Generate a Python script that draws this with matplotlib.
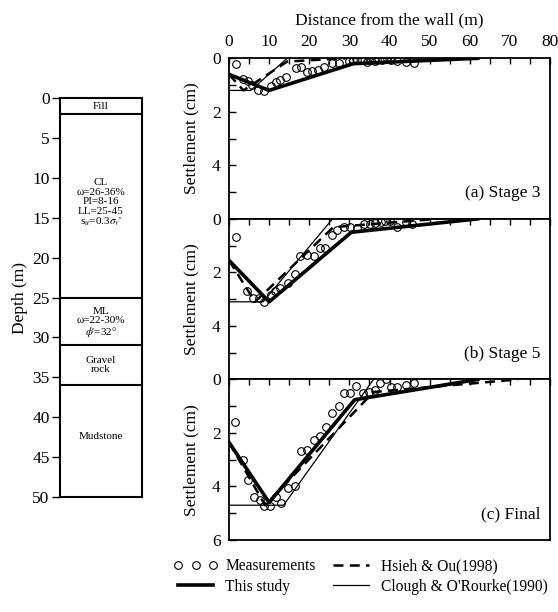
import matplotlib.pyplot as plt
from matplotlib.ticker import MultipleLocator
from matplotlib.lines import Line2D

plt.rcParams['font.family'] = ['Liberation Serif', 'DejaVu Serif']
plt.rcParams['mathtext.fontset'] = 'stix'

# ---- soil profile ----
layer_bounds = [2, 25, 31, 36]
layer_names = ["Fill",
               "CL\nω=26-36%\nPI=8-16\nLL=25-45\ns$_u$=0.3$\\sigma_v$'",
               "ML\nω=22-30%\n$\\phi$'=32°",
               "Gravel\nrock",
               "Mudstone"]
layer_label_depth = [1, 13.2, 28.2, 33.5, 42.5]

# ---- stage 3 ----
meas_x_a = [1.7, 3.4, 4.7, 5.7, 7.3, 8.8, 10.4, 11.7, 12.8, 14.3, 16.7, 17.9, 19.5, 20.7,
            22.3, 23.8, 25.6, 27.3, 29.9, 31.0, 32.0, 33.2, 34.4, 35.3, 36.3, 37.0, 38.2,
            39.3, 40.3, 41.9, 44.0, 46.0]
meas_s_a = [0.22, 0.78, 0.86, 1.0, 1.2, 1.22, 1.05, 0.9, 0.82, 0.7, 0.38, 0.32, 0.5, 0.46,
            0.42, 0.33, 0.18, 0.17, 0.1, 0.07, 0.08, 0.08, 0.12, 0.08, 0.1, 0.07, 0.07,
            0.0, 0.08, 0.1, 0.14, 0.19]
study_x_a = [0, 10, 31, 62]
study_s_a = [0.6, 1.2, 0.2, 0]
hsieh_x_a = [0, 3.6, 14.5, 29]
hsieh_s_a = [0.6, 1.2, 0.12, 0]
clough_x_a = [0, 5.4, 14.5]
clough_s_a = [1.2, 1.2, 0]

# ---- stage 5 ----
meas_x_b = [1.7, 4.5, 6.1, 7.6, 8.8, 10.4, 11.5, 12.8, 14.6, 16.5, 17.8, 19.4, 21.1, 22.6,
            24.0, 25.6, 26.9, 28.6, 30.2, 31.9, 33.6, 35.2, 36.5, 37.8, 39.0, 40.2, 41.9,
            44.0, 45.6]
meas_s_b = [0.69, 2.69, 2.94, 2.97, 3.12, 2.85, 2.7, 2.58, 2.39, 2.07, 1.37, 1.35, 1.37, 1.09,
            1.09, 0.59, 0.41, 0.29, 0.31, 0.34, 0.19, 0.19, 0.16, 0.13, 0.09, 0.09, 0.31,
            0.13, 0.19]
study_x_b = [0, 10, 30.5, 62]
study_s_b = [1.55, 3.1, 0.5, 0]
hsieh_x_b = [0, 6.5, 26, 52]
hsieh_s_b = [1.55, 3.1, 0.31, 0]
clough_x_b = [0, 8.5, 25.8]
clough_s_b = [3.1, 3.1, 0]

# ---- final ----
meas_x_c = [1.6, 3.5, 4.7, 6.2, 7.7, 8.8, 10.25, 11.75, 13.0, 14.6, 16.4, 17.9, 19.4, 21.1,
            22.6, 24.1, 25.7, 27.3, 28.6, 30.2, 31.75, 33.4, 35.0, 36.4, 37.75, 39.1, 40.3,
            41.9, 44.0, 46.1]
meas_s_c = [1.6, 3.02, 3.76, 4.4, 4.5, 4.73, 4.73, 4.39, 4.6, 4.04, 4.0, 2.69, 2.63, 2.25,
            2.1, 1.76, 1.26, 0.98, 0.5, 0.5, 0.23, 0.5, 0.47, 0.4, 0.13, 0.0, 0.3,
            0.29, 0.2, 0.13]
study_x_c = [0, 10, 31.3, 62]
study_s_c = [2.35, 4.6, 0.76, 0]
hsieh_x_c = [0, 9, 36, 72]
hsieh_s_c = [2.35, 4.7, 0.47, 0]
clough_x_c = [0, 13.6, 36]
clough_s_c = [4.7, 4.7, 0]

panels = [
    (meas_x_a, meas_s_a, study_x_a, study_s_a, hsieh_x_a, hsieh_s_a, clough_x_a, clough_s_a, "(a) Stage 3"),
    (meas_x_b, meas_s_b, study_x_b, study_s_b, hsieh_x_b, hsieh_s_b, clough_x_b, clough_s_b, "(b) Stage 5"),
    (meas_x_c, meas_s_c, study_x_c, study_s_c, hsieh_x_c, hsieh_s_c, clough_x_c, clough_s_c, "(c) Final"),
]

FS = 12.5
fig = plt.figure(figsize=(5.58, 6.12), dpi=100)

# soil column
axs = fig.add_axes([60 / 558, 1 - 496.7 / 612, 81.7 / 558, 398.4 / 612])
axs.set_xlim(0, 1)
axs.set_ylim(50, 0)
axs.set_yticks(range(0, 51, 5))
axs.set_xticks([])
axs.tick_params(axis='y', direction='out', length=6, width=1, pad=1.5, labelsize=FS)
for sp in axs.spines.values():
    sp.set_linewidth(1.5)
for d in layer_bounds:
    axs.axhline(d, color='black', lw=1.5)
for name, d in zip(layer_names, layer_label_depth):
    axs.text(0.5, d, name, ha='center', va='center', fontsize=8, linespacing=1.05)
axs.set_ylabel("Depth (m)", fontsize=FS, labelpad=3)

top = 1 - 58.3 / 612
bot = 1 - 540 / 612
h = (top - bot) / 3
for i, (mx, ms, sx, ss, hx, hs, cx, cs, title) in enumerate(panels):
    ax = fig.add_axes([229 / 558, bot + (2 - i) * h, 321 / 558, h])
    ax.plot(cx, cs, color='black', lw=0.9)
    ax.plot(hx, hs, color='black', lw=1.8, dashes=(4, 2.5))
    ax.plot(sx, ss, color='black', lw=2.6)
    ax.plot(mx, ms, 'o', mfc='none', mec='black', ms=5.5, mew=0.8, ls='none')
    ax.set_xlim(0, 80)
    ax.set_ylim(6, 0)
    ax.xaxis.set_major_locator(MultipleLocator(10))
    ax.xaxis.set_minor_locator(MultipleLocator(5))
    ax.set_yticks([0, 2, 4, 6] if i == 2 else [0, 2, 4])
    ax.yaxis.set_minor_locator(MultipleLocator(1))
    ax.tick_params(axis='x', which='both', direction='in', top=True, bottom=False,
                   labeltop=(i == 0), labelbottom=False, length=4, width=1,
                   pad=6, labelsize=FS)
    ax.tick_params(axis='y', which='both', direction='in', left=True, right=False,
                   length=5, width=1, pad=6, labelsize=FS)
    for sp in ax.spines.values():
        sp.set_linewidth(1.3)
    ax.set_ylabel("Settlement (cm)", fontsize=FS, labelpad=9)
    ax.text(0.97, 0.16, title, transform=ax.transAxes, ha='right', va='center', fontsize=FS)
    if i == 0:
        ax.xaxis.set_label_position('top')
        ax.set_xlabel("Distance from the wall (m)", fontsize=FS, labelpad=7)

handles = [
    Line2D([], [], ls='none', marker='o', mfc='none', mec='black', ms=5.5, mew=0.8),
    Line2D([], [], color='black', lw=2.6),
    Line2D([], [], color='black', lw=1.8, dashes=(4, 2.5)),
    Line2D([], [], color='black', lw=0.9),
]
labels = ["Measurements", "This study", "Hsieh & Ou(1998)", "Clough & O'Rourke(1990)"]
fig.legend(handles, labels, loc='upper left', bbox_to_anchor=(173 / 558, 1 - 558 / 612),
           ncol=2, frameon=False, fontsize=11.2, numpoints=3, handlelength=2.9,
           handletextpad=0.45, columnspacing=0.85, labelspacing=0.3, borderpad=0,
           borderaxespad=0)

fig.savefig("out.png", dpi=100)
